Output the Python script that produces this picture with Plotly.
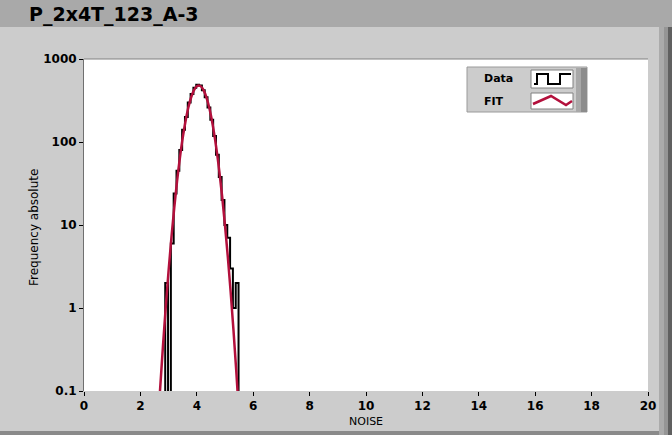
import plotly.graph_objects as go

# ---------------- data ----------------
title_text = "P_2x4T_123_A-3"

# histogram bin left edges and counts ("Data")
data_edges = [2.78, 2.88, 2.98, 3.08, 3.18, 3.28, 3.38, 3.48, 3.58, 3.68, 3.78,
              3.88, 3.98, 4.08, 4.18, 4.28, 4.38, 4.48, 4.58, 4.68, 4.78,
              4.88, 4.98, 5.08, 5.18, 5.28, 5.38, 5.48]
data_counts = [0, 2, 0, 6, 24, 45, 80, 140, 200, 300, 380,
               450, 490, 480, 420, 345, 260, 185, 118, 70, 38,
               20, 10, 7, 3, 1, 2, 0]

# fitted curve ("FIT")
fit_x = [2.6, 2.7, 2.8, 2.9, 3.0, 3.1, 3.2, 3.3, 3.4, 3.5, 3.6, 3.7, 3.8, 3.9,
         4.0, 4.1, 4.2, 4.3, 4.4, 4.5, 4.6, 4.7, 4.8, 4.9, 5.0, 5.1, 5.2,
         5.3, 5.4, 5.5, 5.6]
fit_y = [0.030, 0.107, 0.348, 1.04, 2.83, 7.07, 16.1, 33.7, 64.2, 112, 178,
         260, 346, 422, 470, 478, 445, 379, 295, 210, 136, 81, 44, 21.9,
         9.9, 4.13, 1.57, 0.544, 0.173, 0.050, 0.013]

x_ticks = [0, 2, 4, 6, 8, 10, 12, 14, 16, 18, 20]
y_tickvals = [0.1, 1, 10, 100, 1000]
y_ticktext = ["0.1", "1", "10", "100", "1000"]

x_title = "NOISE"
y_title = "Frequency absolute"
legend_names = ["Data", "FIT"]

# ---------------- styling ----------------
W, H = 672, 435
L, R, T, B = 84, 24, 59, 44
PW, PH = W - L - R, H - T - B
FIT_COLOR = "#b3103c"
PANEL = "#cccccc"
BAR = "#a9a9a9"
FONT = "DejaVu Sans"


def px(x):
    return (x - L) / PW


def py(y):
    return (H - B - y) / PH


# zero counts drawn below the axis floor so the steps drop to the bottom
plot_counts = [c if c > 0 else 1e-3 for c in data_counts]

fig = go.Figure()
fig.add_trace(go.Scatter(x=data_edges, y=plot_counts, mode="lines",
                         line=dict(color="black", width=2, shape="hv"),
                         name=legend_names[0], showlegend=False))
fig.add_trace(go.Scatter(x=fit_x, y=fit_y, mode="lines",
                         line=dict(color=FIT_COLOR, width=2.5, shape="spline"),
                         name=legend_names[1], showlegend=False))

shapes = []
# title bar
shapes.append(dict(type="rect", xref="paper", yref="paper",
                   x0=px(0), x1=px(W), y0=py(27), y1=py(0),
                   fillcolor=BAR, line=dict(width=0), layer="below"))
# right bevel strips
for x0, x1, col in [(659, 664, "#ababab"), (664, 668, "#959595"), (668, 672, "#606060")]:
    shapes.append(dict(type="rect", xref="paper", yref="paper",
                       x0=px(x0), x1=px(x1), y0=py(H), y1=py(27),
                       fillcolor=col, line=dict(width=0), layer="below"))
# bottom edge
shapes.append(dict(type="rect", xref="paper", yref="paper",
                   x0=px(0), x1=px(659), y0=py(H), y1=py(431),
                   fillcolor="#8a8a8a", line=dict(width=0), layer="below"))
# top border of plot area
shapes.append(dict(type="line", xref="paper", yref="paper",
                   x0=0, x1=1, y0=1, y1=1, line=dict(color="#808080", width=1)))

# legend box
shapes.append(dict(type="rect", xref="paper", yref="paper",
                   x0=px(467), x1=px(587), y0=py(112), y1=py(67),
                   fillcolor=PANEL, line=dict(color="#9a9a9a", width=1)))
shapes.append(dict(type="rect", xref="paper", yref="paper",
                   x0=px(576), x1=px(581), y0=py(112), y1=py(68),
                   fillcolor="#a8a8a8", line=dict(width=0)))
shapes.append(dict(type="rect", xref="paper", yref="paper",
                   x0=px(581), x1=px(587), y0=py(112), y1=py(68),
                   fillcolor="#8c8c8c", line=dict(width=0)))
# icon boxes
for y0, y1 in [(70, 88), (93, 109)]:
    shapes.append(dict(type="rect", xref="paper", yref="paper",
                       x0=px(531), x1=px(573), y0=py(y1), y1=py(y0),
                       fillcolor="white", line=dict(color="#808080", width=1)))


def path(points):
    s = ""
    for i, (x, y) in enumerate(points):
        s += ("M" if i == 0 else "L") + f"{px(x):.5f},{py(y):.5f} "
    return s


step_icon = [(534, 84), (537, 84), (537, 74), (548, 74), (548, 84), (560, 84),
             (560, 74), (571, 74)]
zig_icon = [(533, 104), (551, 96), (566, 105), (572, 101)]
shapes.append(dict(type="path", xref="paper", yref="paper", path=path(step_icon),
                   line=dict(color="black", width=2)))
shapes.append(dict(type="path", xref="paper", yref="paper", path=path(zig_icon),
                   line=dict(color=FIT_COLOR, width=2.5)))

annotations = [
    dict(text=f"<b>{title_text}</b>", xref="paper", yref="paper",
         x=px(27), y=py(14), xanchor="left", yanchor="middle", showarrow=False,
         font=dict(family=FONT, size=19, color="black")),
    dict(text=x_title, xref="paper", yref="paper", x=px(366), y=py(421),
         xanchor="center", yanchor="middle", showarrow=False,
         font=dict(family=FONT, size=11, color="black")),
    dict(text=y_title, xref="paper", yref="paper", x=px(34), y=py(228),
         xanchor="center", yanchor="middle", showarrow=False, textangle=-90,
         font=dict(family=FONT, size=12, color="black")),
    dict(text=f"<b>{legend_names[0]}</b>", xref="paper", yref="paper",
         x=px(482), y=py(79), xanchor="left", yanchor="middle", showarrow=False,
         font=dict(family=FONT, size=11, color="black")),
    dict(text=f"<b>{legend_names[1]}</b>", xref="paper", yref="paper",
         x=px(482), y=py(101), xanchor="left", yanchor="middle", showarrow=False,
         font=dict(family=FONT, size=11, color="black")),
]

fig.update_layout(
    width=W, height=H,
    margin=dict(l=L, r=R, t=T, b=B, pad=0),
    paper_bgcolor=PANEL, plot_bgcolor="white",
    showlegend=False,
    shapes=shapes, annotations=annotations,
    font=dict(family=FONT, color="black"),
    xaxis=dict(range=[0, 20], tickvals=x_ticks, ticks="outside", ticklen=4,
               tickcolor="black", showgrid=False, zeroline=False, showline=False,
               tickfont=dict(family=FONT, size=12, weight="bold")),
    yaxis=dict(type="log", range=[-1, 3], tickvals=y_tickvals, ticktext=y_ticktext,
               ticks="outside", ticklen=4, tickcolor="black", showgrid=False,
               zeroline=False, showline=True, linecolor="#707070", linewidth=1,
               tickfont=dict(family=FONT, size=12, weight="bold")),
)

fig.write_html("out.html",
               config={"displayModeBar": False},
               post_script="document.body.style.margin='0';"
                           "document.body.style.overflow='hidden';")
